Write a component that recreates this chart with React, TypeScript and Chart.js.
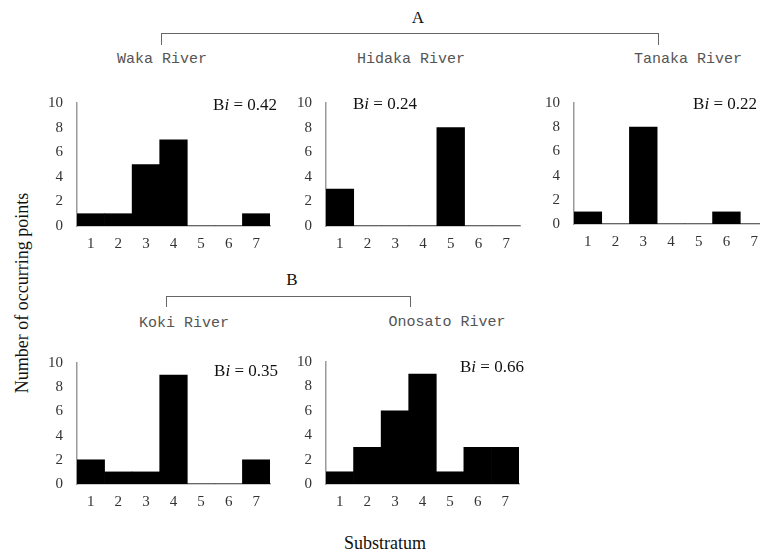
import React, { useEffect, useRef } from "react";
import { Chart, registerables } from "chart.js";

Chart.register(...registerables);

const categories = ["1", "2", "3", "4", "5", "6", "7"];
const wakaValues = [1, 1, 5, 7, 0, 0, 1];
const hidakaValues = [3, 0, 0, 0, 8, 0, 0];
const tanakaValues = [1, 0, 8, 0, 0, 1, 0];
const kokiValues = [2, 1, 1, 9, 0, 0, 2];
const onosatoValues = [1, 3, 6, 9, 1, 3, 3];
const yMin = 0;
const yMax = 10;
const yStep = 2;

const SERIF = "'Liberation Serif', 'Times New Roman', serif";
const MONO = "'Liberation Mono', 'DejaVu Sans Mono', monospace";

const PADL = 40;
const PADT = 8;
const PADB = 32;
const PADR = 6;

type SmallProps = {
  values: number[];
  axisX: number;
  topY: number;
  plotW: number;
  plotH: number;
};

function SmallChart({ values, axisX, topY, plotW, plotH }: SmallProps) {
  const ref = useRef<HTMLCanvasElement | null>(null);
  useEffect(() => {
    if (!ref.current) return;
    const chart = new Chart(ref.current, {
      type: "bar",
      data: {
        labels: categories,
        datasets: [
          {
            data: values,
            backgroundColor: "#000000",
            borderWidth: 0,
            barPercentage: 1,
            categoryPercentage: 1,
          },
        ],
      },
      options: {
        responsive: false,
        maintainAspectRatio: false,
        animation: false,
        layout: { padding: { top: PADT, right: PADR, left: 0, bottom: 0 } },
        plugins: { legend: { display: false }, tooltip: { enabled: false } },
        scales: {
          x: {
            grid: { display: false, drawTicks: false },
            border: { display: true, color: "#9a9a9a", width: 1.5 },
            ticks: {
              color: "#333",
              font: { family: SERIF, size: 15 },
              padding: 9,
              maxRotation: 0,
            },
            afterFit: (s: any) => {
              s.height = PADB;
            },
          },
          y: {
            min: yMin,
            max: yMax,
            grid: { display: false, drawTicks: false },
            border: { display: true, color: "#9a9a9a", width: 1.5 },
            ticks: {
              stepSize: yStep,
              color: "#333",
              font: { family: SERIF, size: 15 },
              padding: 14,
            },
            afterFit: (s: any) => {
              s.width = PADL;
            },
          },
        },
      },
    });
    return () => chart.destroy();
  }, [values]);
  const w = PADL + plotW + PADR;
  const h = PADT + plotH + PADB;
  return (
    <canvas
      ref={ref}
      width={w}
      height={h}
      style={{
        position: "absolute",
        left: axisX - PADL,
        top: topY - PADT,
        width: w,
        height: h,
      }}
    />
  );
}

function Text({
  x,
  y,
  children,
  font,
  size,
  color,
  align = "center",
}: {
  x: number;
  y: number;
  children: React.ReactNode;
  font: string;
  size: number;
  color: string;
  align?: "center" | "left" | "right";
}) {
  const tx = align === "center" ? "-50%" : align === "right" ? "-100%" : "0";
  return (
    <div
      style={{
        position: "absolute",
        left: x,
        top: y,
        transform: `translate(${tx}, -50%)`,
        fontFamily: font,
        fontSize: size,
        color,
        whiteSpace: "pre",
        lineHeight: 1,
      }}
    >
      {children}
    </div>
  );
}

function Bi({ x, y, value, align = "left" }: { x: number; y: number; value: string; align?: "left" | "right" }) {
  return (
    <Text x={x} y={y} font={SERIF} size={17} color="#111" align={align}>
      B<i>i</i> = {value}
    </Text>
  );
}

function Bracket({ x1, x2, y, tick }: { x1: number; x2: number; y: number; tick: number }) {
  return (
    <>
      <div style={{ position: "absolute", left: x1, top: y, width: x2 - x1, height: 0, borderTop: "1.5px solid #666" }} />
      <div style={{ position: "absolute", left: x1, top: y, width: 0, height: tick, borderLeft: "1.5px solid #666" }} />
      <div style={{ position: "absolute", left: x2 - 1.5, top: y, width: 0, height: tick, borderLeft: "1.5px solid #666" }} />
    </>
  );
}

export default function App() {
  useEffect(() => {
    document.body.style.margin = "0";
  }, []);
  return (
    <div style={{ position: "relative", width: 760, height: 553, overflow: "hidden", background: "#fff" }}>
      <Bracket x1={161} x2={659} y={33} tick={12} />
      <Text x={418} y={17} font={SERIF} size={17} color="#111">A</Text>
      <Bracket x1={166} x2={411} y={296} tick={11} />
      <Text x={292} y={279} font={SERIF} size={17} color="#111">B</Text>

      <Text x={162} y={59} font={MONO} size={15} color="#555">Waka River</Text>
      <Text x={411} y={59} font={MONO} size={15} color="#555">Hidaka River</Text>
      <Text x={688} y={59} font={MONO} size={15} color="#555">Tanaka River</Text>
      <Text x={184} y={323} font={MONO} size={15} color="#555">Koki River</Text>
      <Text x={447} y={322} font={MONO} size={15} color="#555">Onosato River</Text>

      <SmallChart values={wakaValues} axisX={77} topY={88} plotW={193} plotH={138} />
      <SmallChart values={hidakaValues} axisX={326} topY={88} plotW={194} plotH={138} />
      <SmallChart values={tanakaValues} axisX={574} topY={88} plotW={194} plotH={136} />
      <SmallChart values={kokiValues} axisX={77} topY={348} plotW={193} plotH={136} />
      <SmallChart values={onosatoValues} axisX={326} topY={347} plotW={193} plotH={137} />

      <Bi x={277} y={104} value="0.42" align="right" />
      <Bi x={353} y={103} value="0.24" />
      <Bi x={757} y={103} value="0.22" align="right" />
      <Bi x={278} y={370} value="0.35" align="right" />
      <Bi x={460} y={366} value="0.66" />

      <Text x={385} y={543} font={SERIF} size={18} color="#111">Substratum</Text>
      <div
        style={{
          position: "absolute",
          left: 22,
          top: 293,
          transform: "translate(-50%, -50%) rotate(-90deg)",
          fontFamily: SERIF,
          fontSize: 18,
          color: "#111",
          whiteSpace: "pre",
          lineHeight: 1,
        }}
      >
        Number of occurring points
      </div>
    </div>
  );
}
